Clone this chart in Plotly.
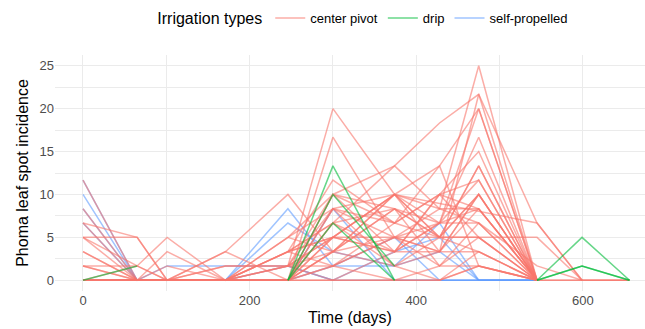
import plotly.graph_objects as go

# Sampling times (days)
days = [0, 65, 101, 171, 246, 300, 374, 428, 475, 545, 599, 656]

# Phoma leaf spot incidence per field (None = not sampled)
center_pivot = [
    [11.67, 0, 0, 0, 1.67, 20, 10, 5, 3.33, 0, None, None],
    [8.33, 0, 0, 0, 0, 16.67, 5, 3.33, 10, 0, None, None],
    [6.67, 5, 0, 0, 3.33, 11.67, 6.67, 10, 8.33, 0, None, None],
    [6.67, 0, 3.33, 0, 5, 10, 13.33, 18.33, 21.67, 0, None, None],
    [5, 5, 0, 3.33, 10, 3.33, 10, 8.33, 25, 0, None, None],
    [5, 1.67, 5, 0, 0, 10, 8.33, 6.67, 20, 0, None, None],
    [5, 0, 0, 1.67, 1.67, 8.33, 10, 13.33, 1.67, 0, None, None],
    [3.33, 0, 1.67, 0, 3.33, 6.67, 3.33, 10, 15, 0, None, None],
    [3.33, 0, 0, 3.33, 0, 5, 10, 6.67, 11.67, 0, None, None],
    [1.67, 1.67, 0, 0, 5, 8.33, 6.67, 5, 13.33, 0, None, None],
    [1.67, 0, 0, 0, 3.33, 5, 5, 3.33, 8.33, 0, None, None],
    [1.67, 0, 0, 1.67, 1.67, 3.33, 5, 8.33, 6.67, 1.67, 0, 0],
    [0, 1.67, 0, 0, 1.67, 5, 3.33, 6.67, 6.67, 0, None, None],
    [0, 0, 0, 0, 0, 3.33, 8.33, 5, 5, 5, 0, None],
    [0, 0, 0, 0, 3.33, 6.67, 1.67, 5, 10, 0, None, None],
    [0, 0, 0, 0, 0, 1.67, 5, 1.67, 5, 0, 0, 0],
    [0, 0, 0, 0, 1.67, 0, 3.33, 3.33, 3.33, 0, None, None],
    [0, 0, 0, 0, 0, 3.33, 1.67, 0, 3.33, 0, None, None],
    [0, 0, 0, 0, 0, 1.67, 0, 1.67, 1.67, 0, None, None],
    [0, 0, 0, 0, 0, 0, 0, 0, 1.67, 0, None, None],
    [0, 0, 0, 0, 0, 0, 0, 0, 1.67, 0, 0, 0],
    [None, None, None, None, 0, 10, 3.33, 10, 5, 0, None, None],
    [None, None, None, None, 1.67, 5, 10, None, None, 6.67, 0, None],
    [None, None, None, None, 0, 6.67, 13.33, 8.33, 8.33, 0, None, None],
    [None, None, None, None, 3.33, 1.67, 6.67, 13.33, 20, 0, None, None],
    [None, None, None, None, 0, 8.33, 5, 6.67, 16.67, 0, None, None],
    [None, None, None, None, 5, 3.33, 8.33, 5, 10, 0, None, None],
    [None, None, None, None, 0, 5, 10, 3.33, 21.67, 6.67, 0, None],
    [None, None, None, None, 0, 3.33, 10, 5, 13.33, 0, None, None],
    [None, None, None, None, 1.67, 10, 6.67, 10, 11.67, 0, None, None],
    [None, None, None, None, 3.33, 5, 3.33, 6.67, 8.33, 0, None, None],
    [None, None, None, None, 0, 6.67, 8.33, 1.67, 6.67, 0, None, None],
    [None, None, None, None, 1.67, 1.67, 5, 5, 5, 0, None, None],
    [None, None, None, None, 0, 8.33, 1.67, 3.33, 10, 0, None, None],
]

drip = [
    [0, 1.67, None, None, None, None, None, None, None, None, None, None],
    [None, None, None, None, 0, 13.33, 0, None, None, None, None, None],
    [None, None, None, None, 0, 6.67, 0, None, None, None, None, None],
    [None, None, None, None, 0, 10, 1.67, None, None, None, None, None],
    [None, None, None, None, None, None, None, None, None, 0, 5, 0],
    [None, None, None, None, None, None, None, None, None, 0, 1.67, 0],
    [None, None, None, None, None, None, None, None, None, 0, 1.67, 0],
]

self_propelled = [
    [10, 0, 0, 0, 8.33, 1.67, 1.67, 6.67, 0, 0, None, None],
    [11.67, 0, 1.67, 1.67, 1.67, 0, 3.33, 5, 0, 0, None, None],
    [8.33, 0, 0, 0, 6.67, 3.33, 1.67, 3.33, 0, 0, None, None],
    [6.67, 0, 0, 0, 0, 8.33, 0, 0, 0, 0, None, None],
    [0, 0, 0, 0, 0, 1.67, 5, 0, 0, 0, None, None],
    [0, 0, 0, 0, 1.67, 0, 0, 0, 0, 0, None, None],
]

# drawing order: self-propelled first, then center pivot, then drip
groups = [
    ("self-propelled", self_propelled, "rgba(97,156,255,0.6)", 3),
    ("center pivot", center_pivot, "rgba(248,118,109,0.6)", 1),
    ("drip", drip, "rgba(0,186,56,0.6)", 2),
]

font_family = "Liberation Sans, Arial, sans-serif"

fig = go.Figure()
for name, fields, color, rank in groups:
    for i, vals in enumerate(fields):
        fig.add_trace(go.Scatter(
            x=days, y=vals, mode="lines", name=name, legendgroup=name,
            showlegend=(i == 0), legendrank=rank, connectgaps=True,
            line=dict(color=color, width=1.5),
            hoverinfo="skip",
        ))

fig.update_layout(
    width=645, height=329,
    margin=dict(l=55, r=0, t=55, b=38),
    paper_bgcolor="white", plot_bgcolor="white",
    font=dict(family=font_family, color="#000000"),
    legend=dict(
        orientation="h", x=0.17, y=1.22, xanchor="left", yanchor="top",
        title=dict(text="Irrigation types", font=dict(size=16), side="left"),
        font=dict(size=13), bgcolor="rgba(0,0,0,0)", traceorder="normal",
    ),
    xaxis=dict(
        range=[-33.6, 674.6], dtick=200, tick0=0,
        showgrid=True, gridcolor="#ebebeb", gridwidth=1.1,
        minor=dict(dtick=100, showgrid=True, gridcolor="#ebebeb", gridwidth=0.6),
        zeroline=False, showline=False, ticks="",
        tickfont=dict(size=13, color="#4d4d4d"),
        title=dict(text="Time (days)", font=dict(size=16), standoff=4),
    ),
    yaxis=dict(
        range=[-1.25, 26.25], dtick=5, tick0=0,
        showgrid=True, gridcolor="#ebebeb", gridwidth=1.1,
        minor=dict(dtick=2.5, showgrid=True, gridcolor="#ebebeb", gridwidth=0.6),
        zeroline=False, showline=False, ticks="",
        tickfont=dict(size=13, color="#4d4d4d"),
        title=dict(text="Phoma leaf spot incidence", font=dict(size=16), standoff=6),
    ),
)

fig.write_html("out.html")
